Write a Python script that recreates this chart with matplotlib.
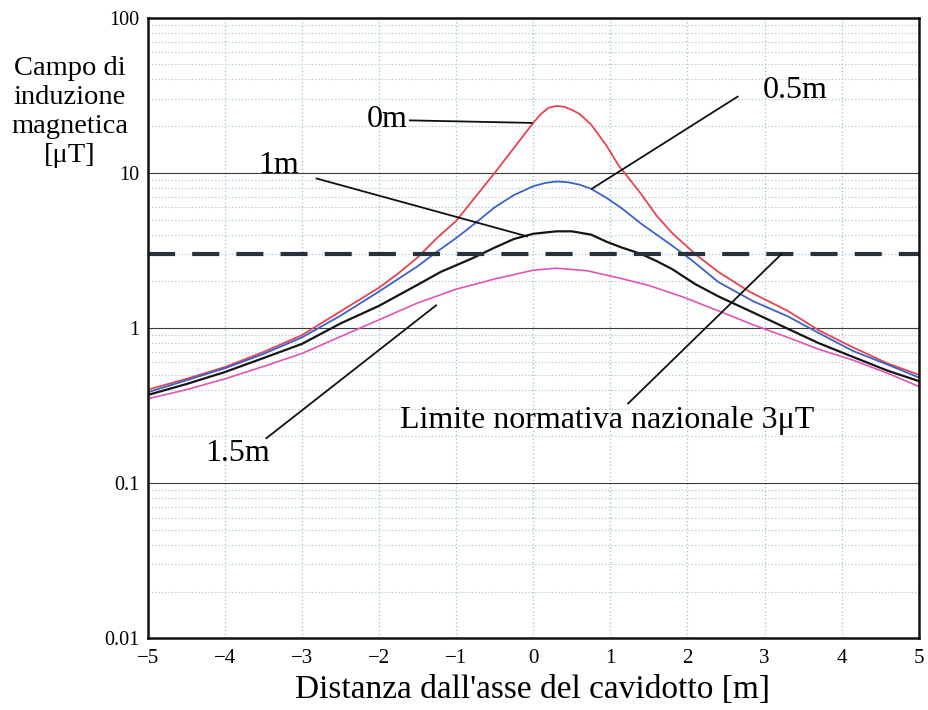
import numpy as np
import matplotlib
matplotlib.use("Agg")
import matplotlib.pyplot as plt
from matplotlib.ticker import FixedLocator, FixedFormatter, LogLocator, NullFormatter

plt.rcParams["font.family"] = ["Liberation Serif", "DejaVu Serif"]

# Distances from the cable axis [m] and field values [uT]
x_0m = [-5, -4.5, -4, -3.5, -3, -2.5, -2, -1.75, -1.5, -1.25, -1, -0.75, -0.5, -0.25,
        0, 0.1, 0.2, 0.3, 0.4, 0.5, 0.6, 0.75, 0.95, 1.1, 1.4, 1.6, 1.8, 2.1, 2.4, 2.8,
        3.3, 3.7, 4.1, 4.6, 5]
b_0m = [0.40, 0.47, 0.56, 0.70, 0.90, 1.28, 1.82, 2.25, 2.85, 3.8, 4.9, 7.0, 10, 14.5,
        21, 24, 26.3, 27, 26.7, 25.5, 24, 20.5, 15, 11.3, 7.3, 5.3, 4.1, 3.0, 2.3, 1.72,
        1.29, 0.97, 0.77, 0.59, 0.50]

x_05m = [-5, -4.5, -4, -3.5, -3, -2.5, -2, -1.5, -1.25, -1, -0.75, -0.5, -0.25, 0,
         0.15, 0.3, 0.45, 0.6, 0.75, 0.95, 1.15, 1.4, 1.6, 1.8, 2.05, 2.4, 2.85, 3.3,
         3.7, 4.15, 4.6, 5]
b_05m = [0.385, 0.46, 0.55, 0.68, 0.87, 1.2, 1.72, 2.5, 3.1, 3.8, 4.75, 6.0, 7.2, 8.2,
         8.6, 8.8, 8.7, 8.4, 7.9, 6.9, 5.9, 4.7, 4.0, 3.4, 2.75, 1.98, 1.49, 1.19,
         0.93, 0.71, 0.58, 0.48]

x_1m = [-5, -4.5, -4, -3.5, -3, -2.5, -2, -1.5, -1.2, -0.8, -0.5, -0.25, 0, 0.3, 0.5,
        0.75, 0.95, 1.15, 1.4, 1.6, 1.8, 2.1, 2.4, 2.85, 3.3, 3.7, 4.15, 4.6, 5]
b_1m = [0.37, 0.435, 0.52, 0.64, 0.79, 1.07, 1.39, 1.9, 2.3, 2.8, 3.3, 3.75, 4.05, 4.2,
        4.2, 4.0, 3.6, 3.3, 3.0, 2.7, 2.4, 1.92, 1.6, 1.26, 0.99, 0.8, 0.65, 0.53, 0.455]

x_15m = [-5, -4.5, -4, -3.5, -3, -2.5, -2, -1.5, -1, -0.5, 0, 0.3, 0.7, 1.15, 1.5, 1.95,
         2.4, 2.85, 3.3, 3.7, 4.15, 4.6, 5]
b_15m = [0.35, 0.40, 0.47, 0.565, 0.685, 0.88, 1.13, 1.45, 1.78, 2.07, 2.36, 2.43, 2.34,
         2.08, 1.88, 1.58, 1.29, 1.05, 0.87, 0.73, 0.62, 0.51, 0.42]

limit_value = 3.0

x_ticks = [-5, -4, -3, -2, -1, 0, 1, 2, 3, 4, 5]
x_tick_labels = ["\u22125", "\u22124", "\u22123", "\u22122", "\u22121", "0", "1", "2", "3", "4", "5"]
y_ticks = [0.01, 0.1, 1, 10, 100]
y_tick_labels = ["0.01", "0.1", "1", "10", "100"]

fig = plt.figure(figsize=(9.29, 7.10), dpi=100)
ax = fig.add_axes([0.159, 0.101, 0.830, 0.874])

ax.set_yscale("log")
ax.set_xlim(-5, 5)
ax.set_ylim(0.01, 100)

# grid: solid decades, dotted minors, light blue dotted verticals
ax.yaxis.set_major_locator(FixedLocator(y_ticks))
ax.yaxis.set_major_formatter(FixedFormatter(y_tick_labels))
ax.yaxis.set_minor_locator(LogLocator(base=10, subs=np.arange(2, 10)))
ax.yaxis.set_minor_formatter(NullFormatter())
ax.xaxis.set_major_locator(FixedLocator(x_ticks))
ax.xaxis.set_major_formatter(FixedFormatter(x_tick_labels))

ax.grid(which="major", axis="y", color="#3a3a3a", lw=0.8, ls="-")
ax.grid(which="minor", axis="y", color="#a9bccb", lw=0.8, ls=(0, (1, 2)))
ax.grid(which="major", axis="x", color="#8cc4de", lw=0.9, ls=(0, (1, 2)))
ax.set_axisbelow(True)

ax.tick_params(which="both", length=0)
ax.tick_params(axis="x", pad=8, labelsize=15)
ax.tick_params(axis="y", pad=6, labelsize=14.5)
for s in ax.spines.values():
    s.set_linewidth(1.8)
    s.set_color("#111111")

ax.plot(x_0m, b_0m, color="#e8434f", lw=1.3)
ax.plot(x_05m, b_05m, color="#3b62c9", lw=1.3)
ax.plot(x_1m, b_1m, color="#151515", lw=1.6)
ax.plot(x_15m, b_15m, color="#e055b5", lw=1.2)
ax.axhline(limit_value, color="#28323c", lw=3, dashes=(6.5, 4.1))

# labels with leader lines
lead = dict(color="#111111", lw=1.3)
ax.plot([-1.6, -0.02], [21.8, 21], **lead)
ax.text(-1.63, 22, "0m", fontsize=23, ha="right", va="center")

ax.plot([2.65, 0.76], [31, 7.9], **lead)
ax.text(2.97, 34, "0.5m", fontsize=23, ha="left", va="center")

ax.plot([-2.81, -0.08], [9.2, 3.9], **lead)
ax.text(-3.57, 11.2, "1m", fontsize=23, ha="left", va="center")

ax.plot([-3.46, -1.26], [0.195, 1.40], **lead)
ax.text(-4.26, 0.155, "1.5m", fontsize=23, ha="left", va="center")

ax.plot([1.23, 3.22], [0.326, limit_value], **lead)
ax.text(-1.73, 0.255, "Limite normativa nazionale 3\u03bcT", fontsize=23, ha="left", va="center")

fig.text(70 / 929, 1 - 112 / 710, "Campo di\ninduzione\nmagnetica\n[\u03bcT]",
         fontsize=20.5, ha="center", va="center", ma="center", linespacing=1.2)
fig.text(533 / 929, 1 - 690 / 710, "Distanza dall'asse del cavidotto [m]",
         fontsize=24, ha="center", va="center")

fig.savefig("out.png", dpi=100)
